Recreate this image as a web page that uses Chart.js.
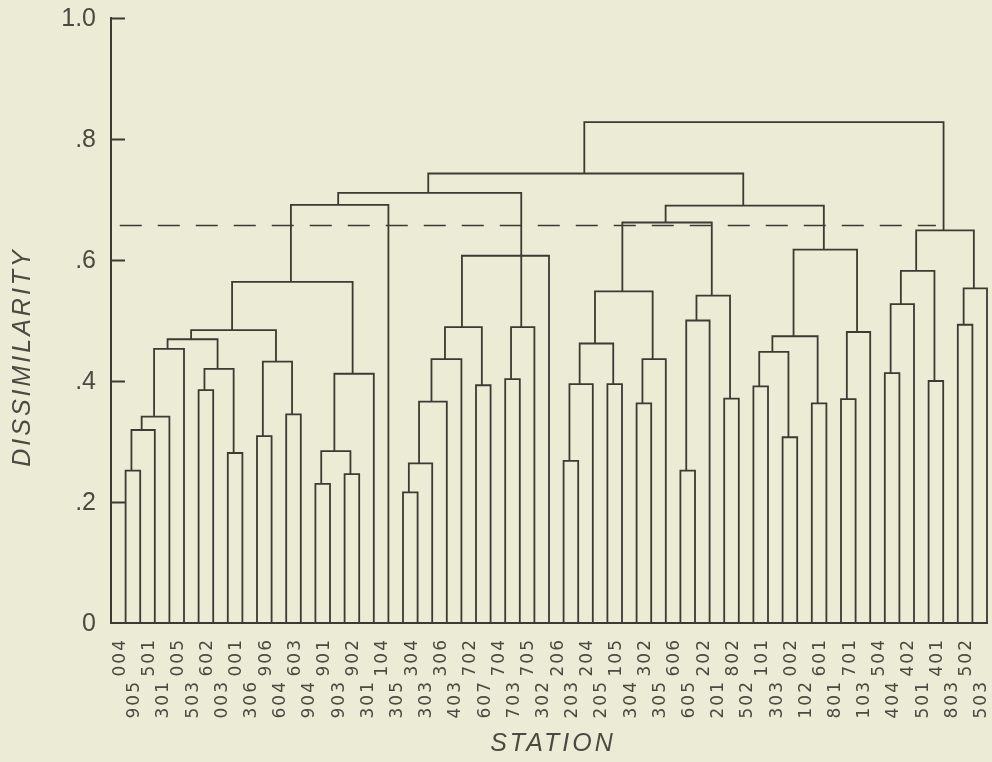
<!DOCTYPE html>
<html>
<head>
<meta charset="utf-8">
<script src="https://cdn.jsdelivr.net/npm/chart.js@4.4.0/dist/chart.umd.min.js"></script>
<style>
  html, body { margin: 0; padding: 0; background: #ecebd6; }
  #wrap { width: 992px; height: 762px; }
</style>
</head>
<body>
<div id="wrap"><canvas id="dendro" width="992" height="762"></canvas></div>
<script>
// station codes along the bottom, left to right
const stations = ['004','905','501','301','005','503','602','003','001','306',
  '906','604','603','904','901','903','902','301','104','305',
  '304','303','306','403','702','607','704','703','705','302',
  '206','203','204','205','105','304','302','305','606','605',
  '202','201','802','502','101','303','002','102','601','801',
  '701','103','504','404','402','501','401','803','502','503'];

// linkage: positive = station position (1-based),
// negative = an earlier merge (-k is merge number k)
const mergeA = [1, -1, -2, -3, 6, 8, -5, -4, 10, 12, -9, -8, 14, 16, -13, -15, -12, -17, 20, -19,
  -20, -21, 25, -22, 27, -25, -24, -18, 31, -29, 34, -30, 36, -33, -32, 39, -36, 42, -37, -35,
  44, 46, -41, 48, -43, 50, -46, -45, -40, -28, 53, -51, 56, -52, 58, -55, -54, -50];
const mergeB = [2, 3, 4, 5, 7, 9, -6, -7, 11, 13, -10, -11, 15, 17, -14, 18, -16, 19, 21, 22,
  23, 24, 26, -23, 28, 29, 30, -26, 32, 33, 35, -31, 37, 38, -34, 40, 41, 43, -38, -39,
  45, 47, -42, 49, -44, 51, 52, -47, -48, -49, 54, 55, 57, -53, 59, 60, -56, -57];
const mergeHeight = [0.252, 0.319, 0.341, 0.453, 0.385, 0.281, 0.420, 0.469, 0.309, 0.345,
  0.432, 0.484, 0.230, 0.246, 0.284, 0.412, 0.564, 0.691, 0.216, 0.264,
  0.366, 0.436, 0.393, 0.489, 0.403, 0.489, 0.607, 0.711, 0.268, 0.395,
  0.395, 0.462, 0.363, 0.436, 0.548, 0.252, 0.500, 0.371, 0.541, 0.662,
  0.391, 0.307, 0.448, 0.363, 0.474, 0.370, 0.481, 0.617, 0.690, 0.743,
  0.413, 0.527, 0.400, 0.582, 0.493, 0.553, 0.649, 0.828];

const yTickValues = [0.2, 0.4, 0.6, 0.8, 1.0];
const yTickLabels = ['0', '.2', '.4', '.6', '.8', '1.0'];
const cutoffLevel = 0.657;
const cutoffSpan = [0.6, 56.5];

const INK = '#3b3a33';
const TEXT = '#4b4a42';
const PAPER = '#ecebd6';
const STEM_SHIFT = -0.1; // the plotter drew each stem a hair left of centre

// node positions, bottom up
const nodeX = [];
function posOf(ref) { return ref > 0 ? ref : nodeX[-ref - 1]; }
function heightOf(ref) { return ref > 0 ? 0 : mergeHeight[-ref - 1]; }
mergeA.forEach((a, k) => {
    nodeX.push((posOf(a) + posOf(mergeB[k])) / 2 + STEM_SHIFT);
});

const datasets = mergeA.map((a, k) => {
    const b = mergeB[k];
    const h = mergeHeight[k];
    return {
        data: [
            { x: posOf(a), y: heightOf(a) },
            { x: posOf(a), y: h },
            { x: posOf(b), y: h },
            { x: posOf(b), y: heightOf(b) }
        ],
        borderColor: INK,
        borderWidth: 1.8,
        pointRadius: 0,
        showLine: true,
        fill: false,
        clip: false
    };
});

datasets.push({
    data: [{ x: cutoffSpan[0], y: cutoffLevel }, { x: cutoffSpan[1], y: cutoffLevel }],
    borderColor: INK,
    borderWidth: 1.6,
    borderDash: [22, 16],
    pointRadius: 0,
    showLine: true,
    clip: false
});

const paperAndText = {
    id: 'paperAndText',
    beforeDraw(chart) {
        const ctx = chart.ctx;
        ctx.save();
        ctx.fillStyle = PAPER;
        ctx.fillRect(0, 0, chart.width, chart.height);
        ctx.restore();
    },
    afterDraw(chart) {
        const ctx = chart.ctx;
        const xs = chart.scales.x;
        const ys = chart.scales.y;
        const area = chart.chartArea;
        ctx.save();

        // inward tick marks on the dissimilarity axis
        ctx.strokeStyle = INK;
        ctx.lineWidth = 2;
        yTickValues.forEach(v => {
            const py = Math.round(ys.getPixelForValue(v)) + 0.5;
            ctx.beginPath();
            ctx.moveTo(area.left, py);
            ctx.lineTo(area.left + 14, py);
            ctx.stroke();
        });

        // y tick labels
        ctx.fillStyle = TEXT;
        ctx.font = '25px "Liberation Sans", Arial, sans-serif';
        ctx.textAlign = 'right';
        ctx.textBaseline = 'middle';
        [0].concat(yTickValues).forEach((v, i) => {
            ctx.fillText(yTickLabels[i], area.left - 15, ys.getPixelForValue(v) + 1);
        });

        // station labels, rotated, staggered in two rows
        ctx.font = '17px "DejaVu Sans", sans-serif';
        ctx.letterSpacing = '2px';
        ctx.textAlign = 'right';
        ctx.textBaseline = 'alphabetic';
        stations.forEach((s, i) => {
            const px = xs.getPixelForValue(i + 1) - 1;
            const py = area.bottom + (i % 2 === 0 ? 15 : 57);
            ctx.save();
            ctx.translate(px, py);
            ctx.rotate(-Math.PI / 2);
            ctx.fillText(s, 0, 0);
            ctx.restore();
        });

        // axis titles
        ctx.font = 'italic 25px "Liberation Sans", Arial, sans-serif';
        ctx.letterSpacing = '3px';
        ctx.textAlign = 'center';
        ctx.textBaseline = 'middle';
        ctx.fillText('STATION', 553, 744);
        ctx.save();
        ctx.translate(23, 357);
        ctx.rotate(-Math.PI / 2);
        ctx.fillText('DISSIMILARITY', 0, 0);
        ctx.restore();

        ctx.restore();
    }
};

new Chart(document.getElementById('dendro').getContext('2d'), {
    type: 'scatter',
    data: { datasets: datasets },
    options: {
        responsive: false,
        animation: false,
        devicePixelRatio: 1,
        layout: { padding: { left: 111, right: 5, top: 18, bottom: 139 } },
        plugins: { legend: { display: false }, tooltip: { enabled: false } },
        scales: {
            x: {
                type: 'linear',
                min: 0,
                max: 60,
                ticks: { display: false },
                grid: { display: false, drawTicks: false },
                border: { display: true, color: INK, width: 2 }
            },
            y: {
                min: 0,
                max: 1.0,
                ticks: { display: false },
                grid: { display: false, drawTicks: false },
                border: { display: true, color: INK, width: 2 }
            }
        }
    },
    plugins: [paperAndText]
});
</script>
</body>
</html>
